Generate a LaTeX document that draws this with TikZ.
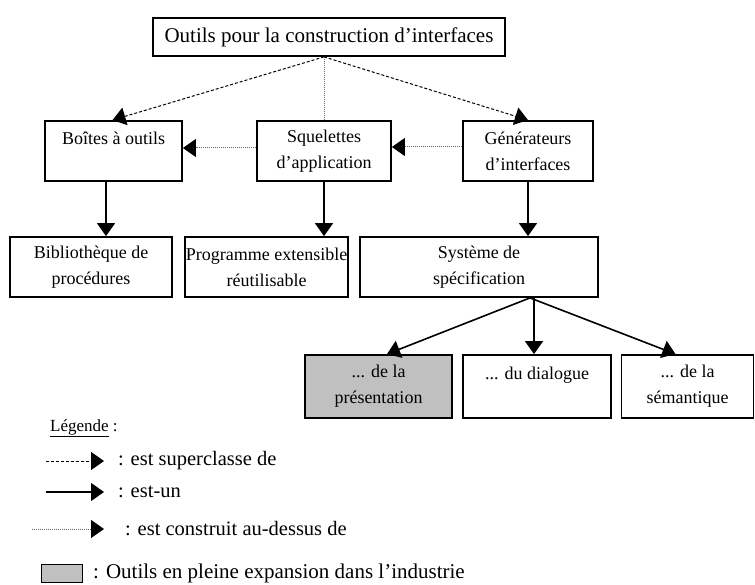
\documentclass[tikz,border=0pt]{standalone}
\usepackage{fontspec}
\setmainfont{Liberation Serif}
\usetikzlibrary{arrows.meta,calc}
\definecolor{boxgray}{RGB}{192,192,192}
\tikzset{
  box/.style={draw, line width=1.8pt, rectangle, align=center, inner sep=0pt,
    font=\fontsize{18}{26}\selectfont},
  tip/.style={-{Triangle[length=13pt,width=18pt,black]}},
  super/.style={tip, line width=1pt, dash pattern=on 3pt off 2pt},
  isa/.style={tip, line width=1.6pt},
  built/.style={tip, line width=1pt, densely dotted, gray!80!black},
  lbl/.style={anchor=west, inner sep=0pt, font=\fontsize{20.5}{24}\selectfont},
}
\begin{document}
\begin{tikzpicture}[x=1pt,y=-1pt]
\useasboundingbox (0,0) rectangle (755,585);
% boxes
\node[box, font=\fontsize{21}{26}\selectfont, minimum width=352pt, minimum height=38pt] (top) at (329,37) {Outils pour la construction d’interfaces};
\node[box, minimum width=137pt, minimum height=60pt] (boites) at (113.5,151) {Boîtes à outils\\\mbox{}};
\node[box, minimum width=134pt, minimum height=60pt] (squel) at (324,151) {Squelettes\\d’application};
\node[box, minimum width=130pt, minimum height=60pt] (gen) at (528,151) {Générateurs\\d’interfaces};
\node[box, minimum width=162pt, minimum height=60pt] (biblio) at (91,267) {Bibliothèque de\\procédures};
\node[box, minimum width=163pt, minimum height=60pt] (prog) at (266.5,267) {Programme extensible\\réutilisable};
\node[box, minimum width=238pt, minimum height=60pt] (sys) at (479,267) {Système de\\spécification};
\node[box, fill=boxgray, minimum width=147pt, minimum height=63pt] (pres) at (378.5,386.5) {... de la\\présentation};
\node[box, minimum width=148pt, minimum height=63pt] (dial) at (537,386.5) {... du dialogue\\\mbox{}};
\node[box, minimum width=132pt, minimum height=63pt] (sem) at (687.5,386.5) {... de la\\sémantique};
% superclass links
\coordinate (c) at ([xshift=-5pt]top.south);
\draw[super] (c) -- ([xshift=-1pt]boites.north);
\draw[super] (c) -- (gen.north);
\draw[line width=1pt, densely dotted, gray!80!black] (c) -- (c |- squel.north);
% built-on links
\draw[built] ([yshift=3pt]squel.west) -- ([yshift=3pt]boites.east);
\draw[built] ([yshift=4pt]gen.west) -- ([yshift=4pt]squel.east);
% is-a links
\draw[isa] ([xshift=-7.5pt]boites.south) -- ([xshift=-7.5pt]boites.south |- biblio.north);
\draw[isa] (squel.south) -- (squel.south |- prog.north);
\draw[isa] (gen.south) -- (gen.south |- sys.north);
\coordinate (s) at ($(sys.south -| gen.south)+(2pt,0)$);
\draw[isa] (s) -- ([xshift=8.5pt]pres.north);
\draw[isa] ([xshift=4pt]s) -- ([xshift=4pt]s |- dial.north);
\draw[isa] (s) -- ([xshift=-12pt]sem.north);
% legend
\node[lbl, font=\fontsize{17}{20}\selectfont] (leg) at (50,428) {\underline{Légende} :};
\coordinate (l1a) at (46,461); \coordinate (l1b) at (104,461);
\draw[super] (l1a) -- (l1b);
\node[lbl] (t1) at (118,461) {: est superclasse de};
\coordinate (l2a) at (46,492); \coordinate (l2b) at (104,492);
\draw[isa] (l2a) -- (l2b);
\node[lbl] (t2) at (118,492) {: est-un};
\coordinate (l3a) at (32,529); \coordinate (l3b) at (104,529);
\draw[built] (l3a) -- (l3b);
\node[lbl] (t3) at (125,529) {: est construit au-dessus de};
\node[draw, line width=1pt, fill=boxgray, minimum width=41pt, minimum height=18pt, inner sep=0pt] (g) at (62,573) {};
\node[lbl, font=\fontsize{21}{24}\selectfont] (t4) at (93,573) {: Outils en pleine expansion dans l’industrie};
\end{tikzpicture}
\end{document}
